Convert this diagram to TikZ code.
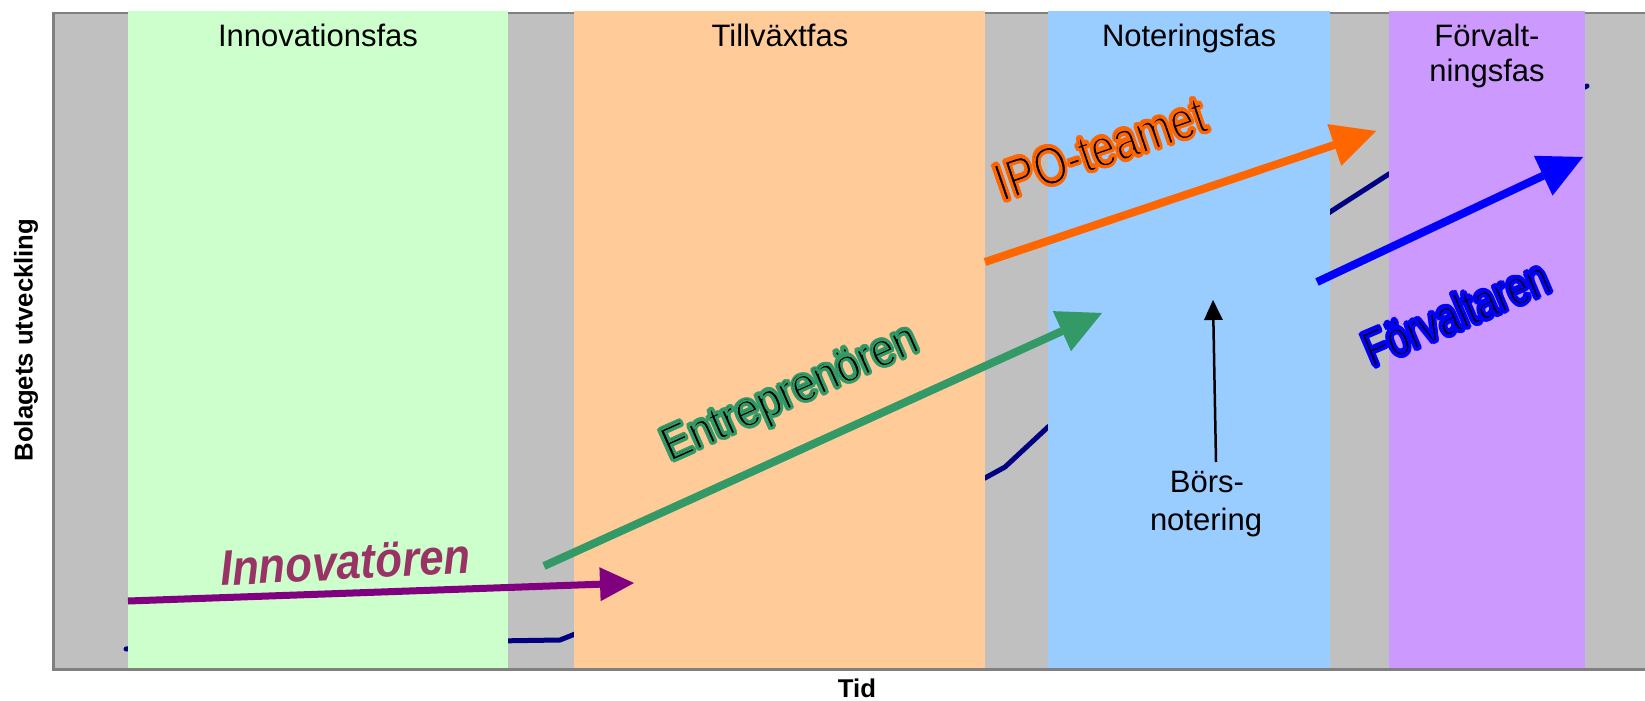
\documentclass[tikz,border=0pt]{standalone}
\usepackage{fontspec}
\setmainfont{Liberation Sans}
\usetikzlibrary{arrows.meta}
\definecolor{plotgray}{HTML}{C0C0C0}
\definecolor{framegray}{HTML}{808080}
\definecolor{bandgreen}{HTML}{CCFFCC}
\definecolor{bandorange}{HTML}{FFCC99}
\definecolor{bandblue}{HTML}{99CCFF}
\definecolor{bandpurple}{HTML}{CC99FF}
\definecolor{curvenavy}{HTML}{000080}
\definecolor{innopurple}{HTML}{800080}
\definecolor{innotext}{HTML}{993366}
\definecolor{entgreen}{HTML}{339966}
\definecolor{ipoorange}{HTML}{FF6600}
\definecolor{forvblue}{HTML}{0000FF}
\newcommand\halotext[7]{% name, position, angle, vertical stretch, halo colour, font, text
  \foreach \ha in {0,30,...,330}{%
    \node[rotate=#3, yscale=#4, anchor=base west, inner sep=0pt, text=#5, font=#6,
          shift={(\ha:2.2bp)}] (#1h\ha) at (#2) {#7};}
  \node[rotate=#3, yscale=#4, anchor=base west, inner sep=0pt, text=black, font=#6] (#1) at (#2) {#7};
  \node[rotate=#3, yscale=#4, anchor=base west, inner sep=0pt, text=#5, font=#6] (#1o) at (#2)
    {\special{pdf:literal direct 1 Tr 1.7 w}#7\special{pdf:literal direct 0 Tr}};
}
\begin{document}
\begin{tikzpicture}[x=1bp,y=-1bp,
  band/.style={fill=#1, draw=none},
  phaselabel/.style={anchor=base, inner sep=0pt, font=\fontsize{31bp}{36bp}\selectfont},
  axislabel/.style={inner sep=0pt, font=\fontsize{25.7bp}{30bp}\selectfont\bfseries},
  curve/.style={draw=curvenavy, line width=5bp, line cap=round, line join=round},
  bigarrow/.style={draw=#1, line width=8bp, -{Triangle[length=44bp,width=44bp,line width=0pt]}},
  smallarrow/.style={draw=black, line width=2.5bp, -{Triangle[length=20bp,width=19bp,line width=0pt]}}
]
\useasboundingbox (0,0) rectangle (1645,701);
\fill[white] (0,0) rectangle (1645,701);
% plot area
\fill[plotgray] (53.5,13) rectangle (1646,669.5);
\draw[framegray, line width=2.5bp] (1646,13) -- (53.5,13) -- (53.5,669.5) -- (1646,669.5);
% development curve (mostly hidden behind the bands)
\draw[curve] (126,649) -- (300,644) -- (560,640) -- (580,632) -- (985,478) -- (1005,467)
  -- (1048,427) -- (1330,212) -- (1389,174) -- (1587,86);
% phase bands
\fill[band=bandgreen]  (128,11.5) rectangle (508,668.3);
\fill[band=bandorange] (574,11.5) rectangle (985,668.3);
\fill[band=bandblue]   (1048,11.5) rectangle (1330,668.3);
\fill[band=bandpurple] (1389,11.5) rectangle (1585,668.3);
% phase labels
\node[phaselabel] (pInno) at (318,47) {Innovationsfas};
\node[phaselabel] (pTill) at (780,47) {Tillväxtfas};
\node[phaselabel] (pNot) at (1189,47) {Noteringsfas};
\node[phaselabel] (pForA) at (1487,47) {Förvalt-};
\node[phaselabel] (pForB) at (1487,82) {ningsfas};
% axis labels
\node[axislabel, rotate=90] (ylab) at (26,340) {Bolagets utveckling};
\node[axislabel, anchor=base] (xlab) at (857,697) {Tid};
% role arrows
\coordinate (innoS) at (128,601);
\coordinate (innoE) at (634,583);
\draw[draw=innopurple, line width=7bp, -{Triangle[length=34bp,width=34bp,line width=0pt]}] (innoS) -- (innoE);
\coordinate (entS) at (544,566);
\coordinate (entE) at (1102,313);
\draw[bigarrow=entgreen] (entS) -- (entE);
\coordinate (ipoS) at (985,262);
\coordinate (ipoE) at (1376,131);
\draw[bigarrow=ipoorange] (ipoS) -- (ipoE);
\coordinate (forS) at (1317,282);
\coordinate (forE) at (1583,157);
\draw[bigarrow=forvblue] (forS) -- (forE);
% role labels
\node[rotate=3, xscale=0.95, yscale=1.08, anchor=base west, inner sep=0pt, text=innotext,
      font=\fontsize{46bp}{50bp}\selectfont\bfseries\itshape] (tInno) at (221,586) {Innovatören};
\coordinate (entT) at (670,462);
\halotext{tEnt}{entT}{24}{1.12}{entgreen}{\fontsize{43bp}{48bp}\selectfont}{Entreprenören}
\coordinate (ipoT) at (1002,202);
\halotext{tIpo}{ipoT}{19}{1.25}{ipoorange}{\fontsize{43bp}{48bp}\selectfont}{IPO-teamet}
\coordinate (forT) at (1372,368);
\halotext{tFor}{forT}{23}{1.3}{forvblue}{\fontsize{39bp}{44bp}\selectfont}{Förvaltaren}
% listing
\node[phaselabel] (bA) at (1207,492) {Börs-};
\node[phaselabel] (bB) at (1206,530) {notering};
\coordinate (bTip) at (1213,300);
\coordinate (bTail) at (1216,462);
\draw[smallarrow] (bTail) -- (bTip);
\end{tikzpicture}
\end{document}
